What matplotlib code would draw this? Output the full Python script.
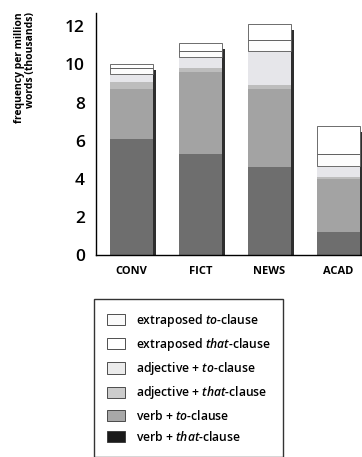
import numpy as np
import matplotlib
matplotlib.use('Agg')
import matplotlib.pyplot as plt
from matplotlib.patches import Patch

plt.rcParams['font.family'] = ['Open Sans', 'DejaVu Sans']
plt.rcParams['mathtext.fontset'] = 'custom'
plt.rcParams['mathtext.it'] = 'Open Sans:italic:semibold'
plt.rcParams['mathtext.rm'] = 'Open Sans:semibold'

registers = ['CONV', 'FICT', 'NEWS', 'ACAD']
# frequency per million words (thousands), bottom to top
verb_that = [6.1, 5.3, 4.6, 1.2]
verb_to = [2.6, 4.3, 4.1, 2.8]
adj_that = [0.4, 0.2, 0.2, 0.1]
adj_to = [0.4, 0.6, 1.8, 0.55]
extra_that = [0.3, 0.3, 0.6, 0.65]
extra_to = [0.2, 0.4, 0.8, 1.45]

series = [verb_that, verb_to, adj_that, adj_to, extra_that, extra_to]
bar_colors = ['#6e6e6e', '#a3a3a3', '#bdbdbd', '#e6e6ea', '#fcfcfc', '#ffffff']
legend_colors = ['#1a1a1a', '#a8a8a8', '#cccccc', '#ebebeb', '#ffffff', '#fafafa']
labels = ['verb + $\\mathit{that}$-clause', 'verb + $\\mathit{to}$-clause',
          'adjective + $\\mathit{that}$-clause', 'adjective + $\\mathit{to}$-clause',
          'extraposed $\\mathit{that}$-clause', 'extraposed $\\mathit{to}$-clause']

fig = plt.figure(figsize=(3.62, 4.57), dpi=100)
ax = fig.add_axes([96/362, 1-255/457, 1-96/362, (255-13)/457])

x = np.arange(len(registers))
w = 0.62
totals = np.sum(series, axis=0)

# shadow on the right of each bar
ax.bar(x + 0.05, totals - 0.3, w, color='#2e2e2e', zorder=1)

bottom = np.zeros(len(registers))
for i, s in enumerate(series):
    if i >= 4:
        ax.bar(x, s, w, bottom=bottom, color=bar_colors[i], edgecolor='#555555', lw=0.6, zorder=2)
    else:
        ax.bar(x, s, w, bottom=bottom, color=bar_colors[i], zorder=2)
    bottom += np.array(s)

ax.set_xlim(-0.51, 3.34)
ax.set_ylim(0, 12.7)
ax.set_yticks([0, 2, 4, 6, 8, 10, 12])
ax.set_xticks(x)
ax.set_xticklabels(registers, fontsize=8, fontweight='bold')
ax.tick_params(axis='y', length=0, labelsize=12.5, pad=8)
ax.tick_params(axis='x', length=0, pad=8)
for t in ax.get_yticklabels():
    t.set_fontweight('semibold')
ax.spines['top'].set_visible(False)
ax.spines['right'].set_visible(False)
ax.spines['left'].set_linewidth(1.0)
ax.spines['bottom'].set_linewidth(1.0)

fig.text(25/362, 1-12/457, 'frequency per million\nwords (thousands)', rotation=90,
         ha='center', va='top', multialignment='right', fontsize=7.5, fontweight='bold',
         linespacing=1.1)

handles = [Patch(facecolor=legend_colors[i], edgecolor='#333333', lw=0.6, label=labels[i])
           for i in range(6)][::-1]
leg = fig.legend(handles=handles, loc='upper left', bbox_to_anchor=(94/362, 1-299/457),
                 prop={'size': 8.7, 'weight': 'semibold'}, frameon=True, fancybox=False,
                 edgecolor='black', handlelength=1.5, handleheight=1.05, handletextpad=0.9,
                 labelspacing=0.6, borderpad=1.05, borderaxespad=0)
leg.get_frame().set_linewidth(1.0)

plt.savefig('out.png', dpi=100)
